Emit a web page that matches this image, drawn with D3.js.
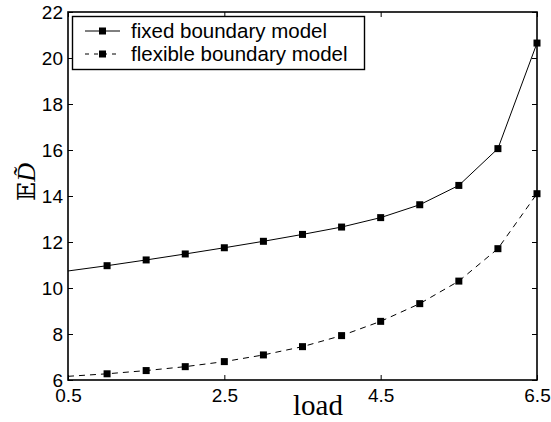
<!DOCTYPE html>
<html>
<head>
<meta charset="utf-8">
<script src="https://cdn.jsdelivr.net/npm/d3@7"></script>
<style>
  body { margin: 0; background: #fff; }
  svg text { font-family: "Liberation Sans", Arial, sans-serif; fill: #000; }
</style>
</head>
<body>
<div id="chart"></div>
<script>
// load values and the two curves
var loads = [0.5, 1, 1.5, 2, 2.5, 3, 3.5, 4, 4.5, 5, 5.5, 6, 6.5];
var fixedVals = [10.74, 10.97, 11.22, 11.48, 11.75, 12.03, 12.33, 12.65, 13.06, 13.62, 14.46, 16.06, 20.65];
var flexVals = [6.16, 6.27, 6.41, 6.58, 6.80, 7.09, 7.45, 7.93, 8.55, 9.32, 10.30, 11.71, 14.10];
var xTicks = [0.5, 2.5, 4.5, 6.5];
var yTicks = [6, 8, 10, 12, 14, 16, 18, 20, 22];
var seriesNames = ["fixed boundary model", "flexible boundary model"];

var w = 551, h = 422;
var pl = 68, pr = 537, pt = 12, pb = 380;

var svg = d3.select("#chart").append("svg")
  .attr("width", w)
  .attr("height", h);

var x = d3.scaleLinear().domain([0.5, 6.5]).range([pl, pr]);
var y = d3.scaleLinear().domain([6, 22]).range([pb, pt]);

// ticks point inward, mirrored on all four sides
var tl = 5;
svg.append("g").attr("transform", "translate(0," + pb + ")")
  .call(d3.axisBottom(x).tickValues(xTicks).tickSize(-tl).tickPadding(9).tickFormat(d3.format(".1f")))
  .call(function(g){ g.select(".domain").remove(); });
svg.append("g").attr("transform", "translate(0," + pt + ")")
  .call(d3.axisTop(x).tickValues(xTicks).tickSize(-tl).tickFormat(""))
  .call(function(g){ g.select(".domain").remove(); });
svg.append("g").attr("transform", "translate(" + pl + ",0)")
  .call(d3.axisLeft(y).tickValues(yTicks).tickSize(-tl).tickPadding(5))
  .call(function(g){ g.select(".domain").remove(); });
svg.append("g").attr("transform", "translate(" + pr + ",0)")
  .call(d3.axisRight(y).tickValues(yTicks).tickSize(-tl).tickFormat(""))
  .call(function(g){ g.select(".domain").remove(); });

svg.selectAll(".tick text")
  .style("font-size", "19px")
  .style("font-family", "'Liberation Sans', Arial, sans-serif");
svg.selectAll(".tick line").attr("stroke", "#000").attr("stroke-width", 1);

svg.append("rect")
  .attr("x", pl).attr("y", pt)
  .attr("width", pr - pl).attr("height", pb - pt)
  .attr("fill", "none").attr("stroke", "#000").attr("stroke-width", 1.6);

var line = d3.line()
  .x(function(d){ return x(d[0]); })
  .y(function(d){ return y(d[1]); });

var series = [
  { name: seriesNames[0], vals: fixedVals, dash: null },
  { name: seriesNames[1], vals: flexVals, dash: "6,5" }
];

series.forEach(function(s){
  var pts = loads.map(function(l, i){ return [l, s.vals[i]]; });
  svg.append("path")
    .datum(pts)
    .attr("d", line)
    .attr("fill", "none")
    .attr("stroke", "#000")
    .attr("stroke-width", 1)
    .attr("stroke-dasharray", s.dash);
  svg.selectAll(null)
    .data(pts.slice(1))
    .enter().append("rect")
    .attr("x", function(d){ return x(d[0]) - 3.5; })
    .attr("y", function(d){ return y(d[1]) - 3.5; })
    .attr("width", 7).attr("height", 7)
    .attr("fill", "#000");
});

// legend
var lg = svg.append("g");
lg.append("rect")
  .attr("x", 72.5).attr("y", 16.5).attr("width", 292).attr("height", 53)
  .attr("fill", "#fff").attr("stroke", "#000").attr("stroke-width", 1.4);
series.forEach(function(s, i){
  var ly = 31 + i * 23;
  lg.append("line")
    .attr("x1", 85).attr("x2", 120).attr("y1", ly).attr("y2", ly)
    .attr("stroke", "#000").attr("stroke-width", 1)
    .attr("stroke-dasharray", s.dash ? "4,5" : null);
  lg.append("rect")
    .attr("x", 99).attr("y", ly - 3.5).attr("width", 7).attr("height", 7)
    .attr("fill", "#000");
  lg.append("text")
    .attr("x", 131).attr("y", ly + 7)
    .style("font-size", "20.5px")
    .text(s.name);
});

// axis labels
svg.append("text")
  .attr("x", 318).attr("y", 415)
  .attr("text-anchor", "middle")
  .style("font-family", "'Liberation Serif', 'DejaVu Serif', serif")
  .style("font-size", "29px")
  .text("load");

var yl = svg.append("text")
  .attr("transform", "translate(35,182) rotate(-90)")
  .attr("text-anchor", "middle");
yl.append("tspan")
  .style("font-family", "'DejaVu Serif', serif")
  .style("font-size", "25px")
  .text("\uD835\uDD3C");
yl.append("tspan")
  .style("font-style", "italic")
  .style("font-family", "'Liberation Serif', serif")
  .style("font-size", "26px")
  .text("D\u0303");
</script>
</body>
</html>
